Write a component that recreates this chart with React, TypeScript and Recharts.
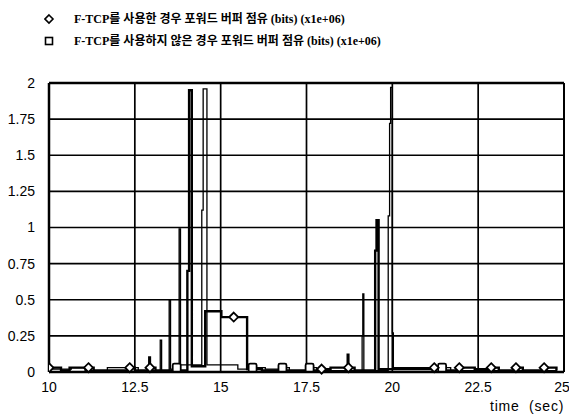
import { CartesianGrid, Line, LineChart, ReferenceLine, XAxis, YAxis } from 'recharts'

// F-TCP를 사용한 경우 (diamond)
const withTime = [
  10.0, 10.35, 10.6, 11.15, 11.3, 12.35, 12.5, 12.92, 12.94, 12.97, 13.1,
  14.03, 14.08, 14.16, 14.55, 15.02, 15.38, 15.77, 16.2, 17.94, 18.2, 18.7,
  18.72, 18.75, 18.9, 19.5, 19.54, 19.6, 21.22, 21.4, 21.95, 22.4, 22.88, 23.1,
  23.6, 23.8, 24.42, 24.78,
]
const withValue = [
  0.03, 0.01, 0.03, 0.03, 0.01, 0.03, 0.01, 0.1, 0.03, 0.03, 0.01, 0.7, 1.95,
  0.04, 0.42, 0.38, 0.38, 0.02, 0.01, 0.02, 0.03, 0.12, 0.03, 0.03, 0.01, 0.84,
  1.05, 0.02, 0.03, 0.01, 0.03, 0.02, 0.03, 0.01, 0.03, 0.01, 0.03, 0.01,
]
const withMark = [
  1, 0, 0, 1, 0, 1, 0, 0, 1, 0, 0, 0, 0, 0, 0, 0, 1, 0, 0, 1, 0, 0, 1, 0, 0, 0,
  0, 0, 1, 0, 1, 0, 1, 0, 1, 0, 1, 0,
]

// F-TCP를 사용하지 않은 경우 (square)
const withoutTime = [
  10.0, 10.65, 11.05, 11.7, 12.3, 12.6, 13.24, 13.28, 13.5, 13.54, 13.72,
  13.79, 13.83, 14.45, 14.49, 14.6, 15.5, 15.93, 16.3, 16.8, 17.0, 17.59,
  17.8, 19.12, 19.14, 19.17, 19.88, 19.92, 19.95, 20.0, 20.03, 21.45, 21.7,
  24.8,
]
const withoutValue = [
  0.02, 0.03, 0.01, 0.03, 0.03, 0.01, 0.22, 0.01, 0.5, 0.02, 0.03, 0.99, 0.05,
  1.12, 1.96, 0.05, 0.02, 0.03, 0.02, 0.03, 0.01, 0.03, 0.01, 0.25, 0.54, 0.01,
  1.08, 1.72, 1.97, 0.27, 0.03, 0.03, 0.01, 0.01,
]
const withoutMark = [
  0, 0, 0, 0, 0, 0, 0, 0, 0, 0, 1, 0, 0, 0, 0, 0, 0, 1, 0, 1, 0, 1, 0, 0, 0, 0,
  0, 0, 0, 0, 0, 1, 0, 0,
]

const xTicks = [10, 12.5, 15, 17.5, 20, 22.5, 25]
const yTicks = [0, 0.25, 0.5, 0.75, 1, 1.25, 1.5, 1.75, 2]

const legendItems = [
  'F-TCP를 사용한 경우 포워드 버퍼 점유 (bits) (x1e+06)',
  'F-TCP를 사용하지 않은 경우 포워드 버퍼 점유 (bits) (x1e+06)',
]

const withData = withTime.map((t, i) => ({ t, v: withValue[i], m: withMark[i] }))
const withoutData = withoutTime.map((t, i) => ({ t, v: withoutValue[i], m: withoutMark[i] }))

const tickStyle = { fontSize: 14, fill: '#000', fontFamily: 'Liberation Sans, Arial, sans-serif' }

function Diamond({ cx, cy, payload, index }: any) {
  if (!payload?.m) return <g key={index} />
  return (
    <path
      key={index}
      d={`M${cx},${cy - 4.5} L${cx + 4.5},${cy} L${cx},${cy + 4.5} L${cx - 4.5},${cy} Z`}
      fill="#fff"
      stroke="#000"
      strokeWidth={1.8}
    />
  )
}

function Square({ cx, cy, payload, index }: any) {
  if (!payload?.m) return <g key={index} />
  return (
    <rect
      key={index}
      x={cx - 4}
      y={cy - 4}
      width={8}
      height={8}
      rx={1.5}
      fill="#fff"
      stroke="#000"
      strokeWidth={1.8}
    />
  )
}

export default function App() {
  return (
    <div style={{ position: 'absolute', left: 0, top: 0, width: 569, height: 417, background: '#fff', overflow: 'hidden' }}>
      <div
        style={{
          position: 'absolute',
          left: 44,
          top: 8,
          fontFamily: '"Liberation Serif", "Noto Sans CJK KR", serif',
          fontWeight: 'bold',
          fontSize: 12,
          lineHeight: '22px',
          color: '#000',
        }}
      >
        {legendItems.map((txt, i) => (
          <div key={txt} style={{ display: 'flex', alignItems: 'center' }}>
            <svg width={30} height={12}>
              {i === 0 ? (
                <path d="M5,2 L9,6 L5,10 L1,6 Z" fill="none" stroke="#000" strokeWidth={1.6} />
              ) : (
                <rect x={1.5} y={2.5} width={7} height={7} fill="none" stroke="#000" strokeWidth={1.6} />
              )}
            </svg>
            <span>{txt}</span>
          </div>
        ))}
      </div>
      <LineChart
        width={569}
        height={417}
        margin={{ top: 83, right: 5, bottom: 0, left: 0 }}
        style={{ position: 'absolute', left: 0, top: 0 }}
      >
        <CartesianGrid stroke="#000" strokeWidth={1.7} />
        <XAxis
          type="number"
          dataKey="t"
          domain={[10, 25]}
          ticks={xTicks}
          allowDataOverflow
          tick={tickStyle}
          tickLine={false}
          axisLine={{ stroke: '#000', strokeWidth: 2.5 }}
          tickMargin={4}
          height={45}
        />
        <YAxis
          type="number"
          domain={[0, 2]}
          ticks={yTicks}
          tick={tickStyle}
          tickLine={false}
          axisLine={{ stroke: '#000', strokeWidth: 2.5 }}
          tickMargin={8}
          width={49}
        />
        <ReferenceLine y={2} stroke="#000" strokeWidth={2.5} />
        <ReferenceLine x={25} stroke="#000" strokeWidth={2} />
        <Line
          data={withoutData}
          dataKey="v"
          type="stepAfter"
          stroke="#000"
          strokeWidth={1.3}
          dot={Square}
          activeDot={false}
          isAnimationActive={false}
        />
        <Line
          data={withData}
          dataKey="v"
          type="stepAfter"
          stroke="#000"
          strokeWidth={2.4}
          dot={Diamond}
          activeDot={false}
          isAnimationActive={false}
        />
      </LineChart>
      <div
        style={{
          position: 'absolute',
          left: 490,
          top: 398,
          fontFamily: 'Liberation Sans, Arial, sans-serif',
          fontSize: 14,
          letterSpacing: 0.8,
          color: '#000',
          whiteSpace: 'pre',
        }}
      >
        {'time  (sec)'}
      </div>
    </div>
  )
}
